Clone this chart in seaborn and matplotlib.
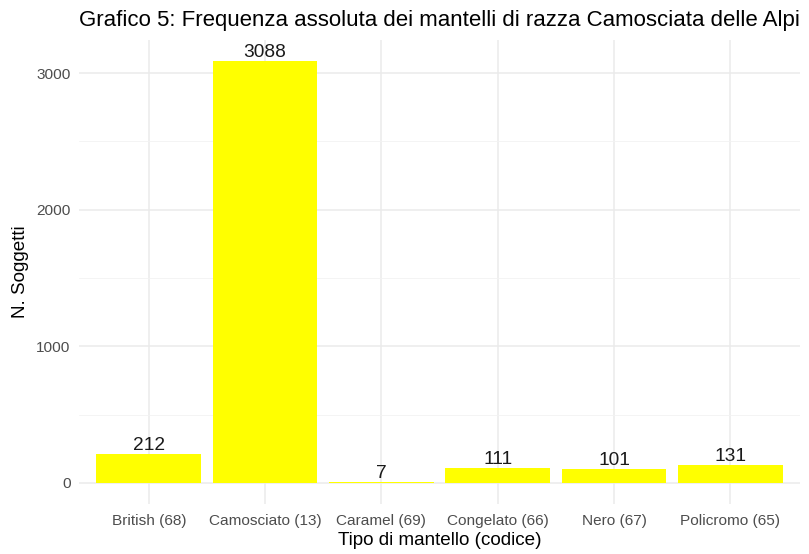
import seaborn as sns
import matplotlib.pyplot as plt
from matplotlib.ticker import MultipleLocator
import pandas as pd

# dati
mantelli = ['British (68)', 'Camosciato (13)', 'Caramel (69)',
            'Congelato (66)', 'Nero (67)', 'Policromo (65)']
soggetti = [212, 3088, 7, 111, 101, 131]

df = pd.DataFrame({'mantello': mantelli, 'n': soggetti})

sns.set_theme(style='white')
plt.rcParams['font.family'] = ['Liberation Sans', 'DejaVu Sans']

fig = plt.figure(figsize=(8.09, 5.54), dpi=100)
ax = fig.add_axes([0.0977, 0.0903, 0.8913, 0.8375])

sns.barplot(data=df, x='mantello', y='n', color='#FFFF00', saturation=1,
            width=0.9, ax=ax, zorder=3, linewidth=0)
ax.bar_label(ax.containers[0], fmt='%d', padding=0, fontsize=13.8, color='#1A1A1A')

# griglia stile ggplot theme_minimal
ax.set_xlim(-0.6, len(mantelli) - 0.4)
ax.set_ylim(-0.05 * max(soggetti), 1.05 * max(soggetti))
ax.yaxis.set_major_locator(MultipleLocator(1000))
ax.yaxis.set_minor_locator(MultipleLocator(500))
ax.grid(True, which='major', color='#EBEBEB', linewidth=1.1, zorder=0)
ax.grid(True, which='minor', axis='y', color='#F2F2F2', linewidth=0.6, zorder=0)
ax.set_axisbelow(True)
for s in ax.spines.values():
    s.set_visible(False)
ax.tick_params(axis='both', which='both', length=0, labelsize=11.1, labelcolor='#4D4D4D')
ax.tick_params(axis='x', pad=7)
ax.tick_params(axis='y', pad=6)

ax.set_xlabel('Tipo di mantello (codice)', fontsize=13.6, color='black', labelpad=3)
ax.set_ylabel('N. Soggetti', fontsize=13.6, color='black', labelpad=5)
ax.set_title('Grafico 5: Frequenza assoluta dei mantelli di razza Camosciata delle Alpi',
             fontsize=16, loc='left', color='black', pad=10)

plt.savefig('out.png', dpi=100)
